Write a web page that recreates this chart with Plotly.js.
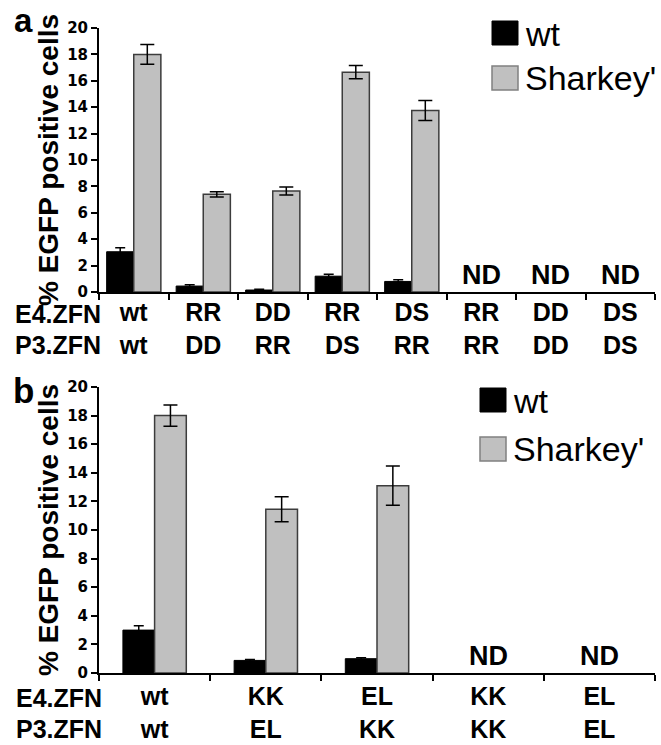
<!DOCTYPE html>
<html><head><meta charset="utf-8">
<script src="https://cdn.plot.ly/plotly-3.0.1.min.js"></script>
<style>html,body{margin:0;padding:0;background:#fff}#chart{width:661px;height:745px}</style>
</head><body><div id="chart"></div>
<script>
// ---- Panel a data ----
const aE4 = ["wt","RR","DD","RR","DS","RR","DD","DS"];
const aP3 = ["wt","DD","RR","DS","RR","RR","DD","DS"];
const aWt = [3.05, 0.45, 0.15, 1.2, 0.8, null, null, null];
const aWtErr = [0.3, 0.1, 0.05, 0.15, 0.13, null, null, null];
const aSh = [18.0, 7.4, 7.65, 16.65, 13.75, null, null, null];
const aShErr = [0.75, 0.2, 0.3, 0.5, 0.75, null, null, null];
const aND = [false, false, false, false, false, true, true, true];

// ---- Panel b data ----
const bE4 = ["wt","KK","EL","KK","EL"];
const bP3 = ["wt","EL","KK","KK","EL"];
const bWt = [3.0, 0.88, 1.0, null, null];
const bWtErr = [0.3, 0.07, 0.07, null, null];
const bSh = [18.0, 11.45, 13.1, null, null];
const bShErr = [0.75, 0.88, 1.37, null, null];
const bND = [false, false, false, true, true];

const seriesNames = ["wt", "Sharkey'"];
const rowLabels = ["E4.ZFN", "P3.ZFN"];
const panelLabels = ["a", "b"];
const yTitle = "% EGFP positive cells";
const yTicks = [0, 2, 4, 6, 8, 10, 12, 14, 16, 18, 20];
const ndText = "ND";

// ---- layout geometry ----
const W = 661, H = 745, L = 99, R = 6, T = 28, B = 72;
const PW = W - L - R, PH = H - T - B;
const fx = px => (px - L) / PW;
const fy = py => (H - B - py) / PH;

const ARIAL = "Liberation Sans, Arial, sans-serif";
const BLACK = "#000000", GRAY = "#c0c0c0", GRAYLINE = "#3c3c3c";

const aCats = aE4.map((e, i) => e + "/" + aP3[i]);
const aText = aE4.map((e, i) => e + "<br>" + aP3[i]);
const bCats = bE4.map((e, i) => e + "/" + bP3[i]);
const bText = bE4.map((e, i) => e + "<br>" + bP3[i]);

const wA = 0.39, wB = 0.285;

function barTrace(x, y, err, name, color, lineColor, lw, xa, ya, w, off, capw) {
  return {
    type: "bar", x: x, y: y, name: name, xaxis: xa, yaxis: ya,
    width: w, offset: off, showlegend: false, hoverinfo: "skip",
    marker: { color: color, line: { color: lineColor, width: lw } },
    error_y: { type: "data", array: err, visible: true, color: BLACK, thickness: 1.5, width: capw }
  };
}

const data = [
  barTrace(aCats, aWt, aWtErr, seriesNames[0], BLACK, BLACK, 1, "x", "y", wA, -wA, 5),
  barTrace(aCats, aSh, aShErr, seriesNames[1], GRAY, GRAYLINE, 1.5, "x", "y", wA, 0, 7),
  barTrace(bCats, bWt, bWtErr, seriesNames[0], BLACK, BLACK, 1, "x2", "y2", wB, -wB, 5),
  barTrace(bCats, bSh, bShErr, seriesNames[1], GRAY, GRAYLINE, 1.5, "x2", "y2", wB, 0, 7)
];

function xAxis(cats, text, anchor, standoff) {
  return {
    domain: [0, 1], anchor: anchor, type: "category",
    categoryorder: "array", categoryarray: cats,
    tickmode: "array", tickvals: cats, ticktext: text,
    range: [-0.5, cats.length - 0.5],
    tickson: "boundaries", ticks: "outside", ticklen: 6, tickwidth: 2, tickcolor: BLACK,
    showline: true, linewidth: 2, linecolor: BLACK, showgrid: false, zeroline: false,
    ticklabelstandoff: standoff,
    tickfont: { family: ARIAL, size: 25, color: BLACK, weight: 700 },
    fixedrange: true
  };
}
function yAxis(domain, anchor) {
  return {
    domain: domain, anchor: anchor, range: [0, 20],
    tickmode: "array", tickvals: yTicks,
    ticks: "outside", ticklen: 6, tickwidth: 2, tickcolor: BLACK,
    showline: true, linewidth: 2, linecolor: BLACK, showgrid: false, zeroline: false,
    tickfont: { family: "DejaVu Sans, sans-serif", size: 15, color: BLACK, weight: 700 },
    title: { text: yTitle, standoff: 0, font: { family: ARIAL, size: 28, color: BLACK, weight: 700 } },
    automargin: false,
    fixedrange: true
  };
}

const annotations = [];
const shapes = [];
function addText(px, py, text, size, weight, yanchor) {
  annotations.push({
    xref: "paper", yref: "paper", x: fx(px), y: fy(py), text: text, showarrow: false,
    xanchor: "left", yanchor: yanchor || "middle",
    font: { family: ARIAL, size: size, color: BLACK, weight: weight }
  });
}
// panel labels
addText(12, 0, panelLabels[0], 33, 700, "top");
addText(11, 390, panelLabels[1], 35, 700);
// row labels
addText(13, 314, rowLabels[0], 25, 700);
addText(13, 345, rowLabels[1], 25, 700);
addText(14, 698, rowLabels[0], 25, 700);
addText(14, 729, rowLabels[1], 25, 700);
// ND labels
function addND(cats, nd, xa, ya) {
  cats.forEach((c, i) => {
    if (nd[i]) annotations.push({
      xref: xa, yref: ya, x: c, y: 0, text: ndText, showarrow: false,
      xanchor: "center", yanchor: "bottom",
      font: { family: ARIAL, size: 27, color: BLACK, weight: 700 }
    });
  });
}
addND(aCats, aND, "x", "y");
addND(bCats, bND, "x2", "y2");
// legends
function addLegend(x0, yw, ys, tx) {
  shapes.push({ type: "rect", xref: "paper", yref: "paper", x0: fx(x0), x1: fx(x0 + 26), y0: fy(yw + 12), y1: fy(yw - 12), fillcolor: BLACK, line: { color: BLACK, width: 1 } });
  shapes.push({ type: "rect", xref: "paper", yref: "paper", x0: fx(x0), x1: fx(x0 + 26), y0: fy(ys + 12), y1: fy(ys - 12), fillcolor: GRAY, line: { color: "#808080", width: 1.5 } });
  addText(tx, yw + 1, seriesNames[0], 34, 400);
  addText(tx, ys, seriesNames[1], 34, 400);
}
addLegend(492, 33, 78, 523);
addLegend(480, 400, 449, 511);

const layout = {
  width: W, height: H,
  margin: { l: L, r: R, t: T, b: B, pad: 0 },
  paper_bgcolor: "#ffffff", plot_bgcolor: "#ffffff",
  showlegend: false, barmode: "overlay",
  xaxis: xAxis(aCats, aText, "y", -3),
  yaxis: yAxis([fy(292), fy(28)], "x"),
  xaxis2: xAxis(bCats, bText, "y2", 0),
  yaxis2: yAxis([fy(673), fy(387)], "x2"),
  annotations: annotations, shapes: shapes,
  font: { family: ARIAL, color: BLACK }
};

Plotly.newPlot("chart", data, layout, { staticPlot: true, displayModeBar: false });
</script>
</body></html>
